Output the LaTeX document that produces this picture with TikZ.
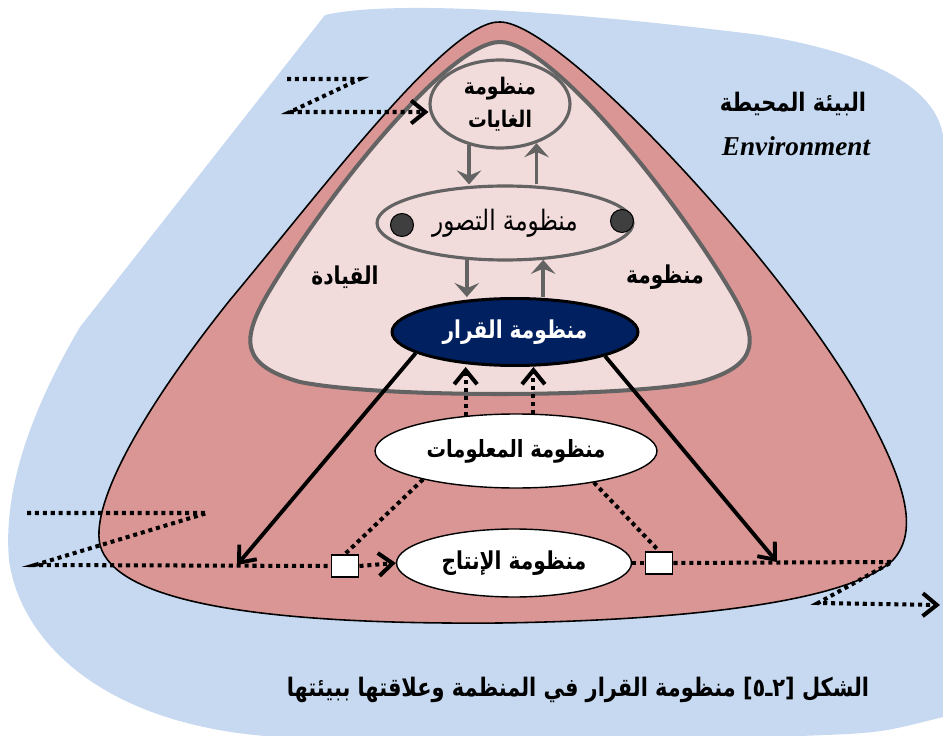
\documentclass[tikz,border=0pt]{standalone}
\usepackage{fontspec}
\setmainfont{Liberation Serif}
\newfontfamily\arabicfont[Script=Arabic,FakeStretch=0.82]{DejaVu Sans}
\newfontfamily\bracketfont[FakeStretch=0.82]{DejaVu Sans}
\TeXXeTstate=1
\usetikzlibrary{arrows.meta,calc,positioning,shapes.geometric}
\definecolor{envblue}{HTML}{C6D9F1}
\definecolor{orgred}{HTML}{D99694}
\definecolor{leadpink}{HTML}{F2DCDB}
\definecolor{linegray}{HTML}{636363}
\definecolor{navy}{HTML}{002060}
\definecolor{dotgray}{HTML}{3F3F3F}
\tikzset{%
  system/.style={ellipse,draw,inner sep=0pt,align=center,font=\arabicfont\bfseries\fontsize{14}{19}\selectfont},
  leadsys/.style={system,draw=linegray,line width=1.8pt,fill=leadpink},
  opsys/.style={system,fill=white,line width=0.8pt},
  port/.style={rectangle,draw,fill=white,line width=1.1pt,minimum width=0.54cm,minimum height=0.44cm,inner sep=0pt},
  sensor/.style={circle,draw,fill=dotgray,line width=0.6pt,minimum size=0.46cm,inner sep=0pt},
  flow/.style={draw=linegray,line width=2pt,-{Stealth[length=8pt,width=14pt,inset=3pt]}},
  command/.style={line width=2.2pt,-{Straight Barb[length=8pt,width=13pt]}},
  info/.style={line width=2.3pt,dash pattern=on 2.3pt off 2.2pt},
  infoarrow/.style={info,-{Straight Barb[length=8pt,width=13pt]}},
  heading/.style={font=\arabicfont\bfseries\fontsize{14}{16}\selectfont},
}
% figure number, glyphs set one by one from left to right
\newcommand{\fignum}{\beginL\hbox{\bracketfont[}\hbox{٥}\hbox{ـ}\hbox{٢}\hbox{\bracketfont]}\endL}

\begin{document}
\begin{tikzpicture}[x=0.02cm,y=-0.02cm]
  \useasboundingbox (0,0) rectangle (943,736);

  % environment, organisation, leadership
  \fill[envblue] (325,15) .. controls (390,0) and (560,10) .. (760,35)
    .. controls (880,55) and (935,90) .. (943,135) -- (943,717)
    .. controls (880,733) .. (800,736) -- (265,736)
    .. controls (100,722) and (20,640) .. (9,560)
    .. controls (2,480) and (40,395) .. (80,327) -- cycle;
  \draw[fill=orgred,line width=0.9pt] (500,22) .. controls (450,20) and (330,180) .. (230,300)
    .. controls (150,400) and (90,500) .. (100,545)
    .. controls (115,600) and (250,625) .. (500,623)
    .. controls (700,620) and (850,600) .. (893,560)
    .. controls (920,530) and (905,480) .. (860,400)
    .. controls (780,260) and (560,22) .. (500,22);
  \draw[fill=leadpink,draw=linegray,line width=2.3pt] (500,42) .. controls (450,42) and (330,190) .. (270,290)
    .. controls (240,340) and (240,365) .. (300,382)
    .. controls (380,398) and (620,398) .. (700,382)
    .. controls (760,365) and (760,340) .. (730,290)
    .. controls (670,190) and (550,42) .. (500,42);

  \node[heading,font=\arabicfont\bfseries\fontsize{14.5}{16}\selectfont] (envar) at (793,104) {\beginR البيئة المحيطة\endR};
  \node[font=\bfseries\itshape\fontsize{15.5}{17}\selectfont] (enven) at (796,146) {Environment};
  \node[heading] (leadleft) at (345,277) {\beginR القيادة\endR};
  \node[heading] (leadright) at (665,277) {\beginR منظومة\endR};

  % systems
  \node[leadsys,minimum width=2.8cm,minimum height=1.76cm,font=\arabicfont\bfseries\fontsize{13}{19}\selectfont] (goals) at (500,104)
    {\beginR منظومة\endR\\\beginR الغايات\endR};
  \node[leadsys,minimum width=5.12cm,minimum height=1.48cm,font=\arabicfont\fontsize{16}{18}\selectfont] (vision) at (505,223)
    {\beginR منظومة التصور\endR};
  \node[sensor] (sensl) at (402,225) {};
  \node[sensor] (sensr) at (622,221) {};
  \node[system,fill=navy,text=white,line width=1.7pt,minimum width=4.92cm,minimum height=1.34cm] (decision) at (515,332)
    {\beginR منظومة القرار\endR};
  \node[opsys,minimum width=5.64cm,minimum height=1.48cm,font=\arabicfont\bfseries\fontsize{13.5}{16}\selectfont] (infosys) at (516,451)
    {\beginR منظومة المعلومات\endR};
  \node[opsys,minimum width=4.7cm,minimum height=1.36cm] (prod) at (514,563)
    {\beginR منظومة الإنتاج\endR};
  \node[port] (inport) at (345,566) {};
  \node[port] (outport) at (659,563) {};

  \coordinate (zt1) at (287,79);
  \coordinate (zt2) at (360,79);
  \coordinate (zt3) at (290,112);
  \coordinate (zl1) at (27,513);
  \coordinate (zl2) at (207,513);
  \coordinate (zl3) at (35,565);
  \coordinate (zr1) at (892,562);
  \coordinate (zr2) at (818,603);
  \coordinate (zr3) at (940,605);
  \coordinate (cmdl) at (237,565);
  \coordinate (cmdr) at (777,562);

  % leadership flows
  \draw[flow] (goals.233) -- (goals.233 |- vision.north);
  \draw[flow] (vision.north -| goals.313) -- (goals.313);
  \draw[flow] (vision.224) -- (vision.224 |- decision.north);
  \draw[flow] (decision.north -| vision.316) -- (vision.316);

  % information and commands
  \draw[infoarrow] (infosys.145) -- (infosys.145 |- decision.south);
  \draw[infoarrow] (infosys.65) -- (infosys.65 |- decision.south);
  \draw[command] (decision.192) -- (cmdl);
  \draw[command] (decision.345) -- (cmdr);
  \draw[info] (infosys.197) -- (inport.north);
  \draw[info] (infosys.338) -- (outport.north);

  % inputs and outputs
  \draw[infoarrow] (zt1) -- (zt2) -- (zt3) -- (zt3 -| goals.west);
  \draw[info] (zl1) -- (zl2) -- (zl3) -- (inport.west);
  \draw[infoarrow] (inport.east) -- (prod.west);
  \draw[info] (prod.east) -- (outport.west);
  \draw[infoarrow] (outport.east) -- (zr1) -- (zr2) -- (zr3);

  \node[heading,font=\arabicfont\bfseries\fontsize{14.5}{16}\selectfont] (caption) at (578,690)
    {\beginR الشكل \fignum{} منظومة القرار في المنظمة وعلاقتها ببيئتها\endR};
\end{tikzpicture}
\end{document}
